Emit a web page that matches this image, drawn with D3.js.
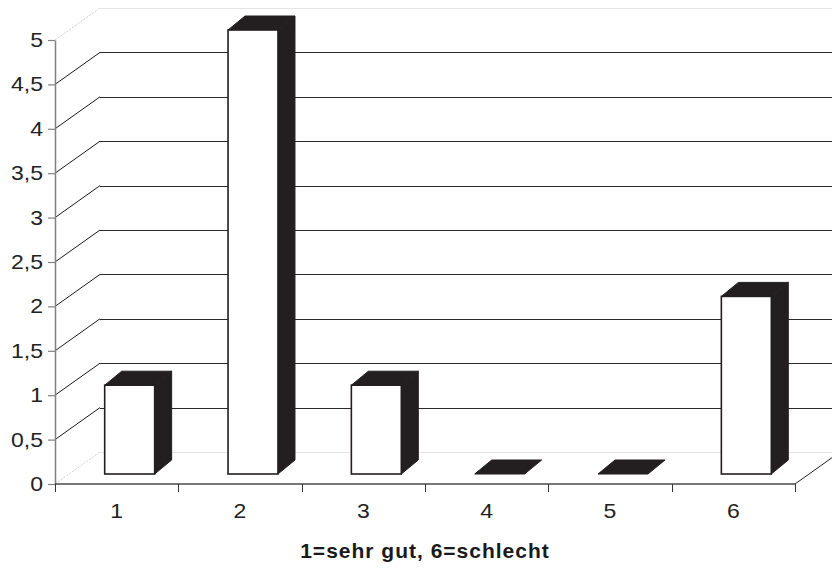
<!DOCTYPE html>
<html>
<head>
<meta charset="utf-8">
<script src="https://cdn.jsdelivr.net/npm/d3@7"></script>
<style>
  html, body { margin: 0; padding: 0; background: #fff; }
  svg { display: block; font-family: Arial, "Liberation Sans", sans-serif; }
</style>
</head>
<body>
<svg id="chart" width="832" height="568"></svg>
<script>
// Ratings 1 (sehr gut) .. 6 (schlecht) and how often each was given
const categories = ["1", "2", "3", "4", "5", "6"];
const counts = [1, 5, 1, 0, 0, 2];
const yTickValues = [0, 0.5, 1, 1.5, 2, 2.5, 3, 3.5, 4, 4.5, 5];
const yTickLabels = ["0", "0,5", "1", "1,5", "2", "2,5", "3", "3,5", "4", "4,5", "5"];
const xTitle = "1=sehr gut, 6=schlecht";

const svg = d3.select("#chart");

// Front plane of the 3D box
const x = d3.scaleBand().domain(categories).range([55, 795]).padding(0);
const y = d3.scaleLinear().domain([0, 5]).range([484, 40]);

// Oblique depth of the back wall and of each bar
const wallDx = 45, wallDy = -32;
const barOffX = 13, barOffY = -10;   // bar front face sits a bit into the box
const barDx = 17, barDy = -14;       // bar depth
const barW = x.bandwidth() * 0.405;
const textStretch = 1.15;            // labels are drawn slightly wide

const x0 = x.range()[0], x1 = x.range()[1];
const farRight = x1 + wallDx;

// ----- back wall & gridlines -----
const grid = svg.append("g");
yTickValues.forEach(v => {
  const edge = v === 0 || v === 5;
  const yf = y(v), yb = y(v) + wallDy;
  grid.append("line")
    .attr("x1", x0).attr("y1", yf)
    .attr("x2", x0 + wallDx).attr("y2", yb)
    .attr("stroke", edge ? "#cfcfcf" : "#1a1a1a")
    .attr("stroke-width", 1)
    .attr("stroke-dasharray", edge ? "2,1.5" : null);
  grid.append("line")
    .attr("x1", x0 + wallDx).attr("y1", Math.round(yb) + 0.5)
    .attr("x2", farRight).attr("y2", Math.round(yb) + 0.5)
    .attr("stroke", edge ? "#e4e4e4" : "#2a2a2a")
    .attr("stroke-width", 1);
});

// right edge of the floor
grid.append("line")
  .attr("x1", x1).attr("y1", y(0))
  .attr("x2", x1 + wallDx).attr("y2", y(0) + wallDy)
  .attr("stroke", "#222").attr("stroke-width", 1);

// ----- bars -----
const dark = "#231f20";
const bars = svg.append("g").selectAll("g")
  .data(categories.map((c, i) => ({ c, v: counts[i] })))
  .join("g");

bars.each(function (d) {
  const g = d3.select(this);
  const fx = x(d.c) + (x.bandwidth() - barW) / 2 + barOffX;
  const bot = y(0) + barOffY;
  const top = y(d.v) + barOffY;
  const topFace = [[fx, top], [fx + barDx, top + barDy], [fx + barW + barDx, top + barDy], [fx + barW, top]];
  g.append("polygon")
    .attr("points", topFace.map(p => p.join(",")).join(" "))
    .attr("fill", dark).attr("stroke", dark).attr("stroke-width", 1).attr("stroke-linejoin", "round");
  if (d.v > 0) {
    const side = [[fx + barW, top], [fx + barW + barDx, top + barDy], [fx + barW + barDx, bot + barDy], [fx + barW, bot]];
    g.append("polygon")
      .attr("points", side.map(p => p.join(",")).join(" "))
      .attr("fill", dark).attr("stroke", dark).attr("stroke-width", 1).attr("stroke-linejoin", "round");
    g.append("rect")
      .attr("x", fx).attr("y", top)
      .attr("width", barW).attr("height", bot - top)
      .attr("fill", "#fff").attr("stroke", dark).attr("stroke-width", 1.6);
  }
});

// ----- y axis -----
const yAxis = d3.axisLeft(y)
  .tickValues(yTickValues)
  .tickFormat((v, i) => yTickLabels[i])
  .tickSize(7)
  .tickSizeOuter(0)
  .tickPadding(5);

const gy = svg.append("g").attr("transform", `translate(${x0},0)`).call(yAxis);
gy.select(".domain").attr("stroke", "#808080").attr("stroke-width", 1.5);
gy.selectAll(".tick line").attr("stroke", "#808080").attr("stroke-width", 1.2);
gy.selectAll(".tick text")
  .each(function () {
    const t = d3.select(this);
    const tx = +t.attr("x");
    t.attr("x", 0).attr("transform", `translate(${tx},0) scale(${textStretch},1)`);
  })
  .attr("fill", "#222")
  .attr("font-size", 20)
  .attr("font-family", "Arial, 'Liberation Sans', sans-serif");

// ----- x axis -----
const gx = svg.append("g");
gx.append("line")
  .attr("x1", x0).attr("x2", x1)
  .attr("y1", y(0)).attr("y2", y(0))
  .attr("stroke", "#4a4a4a").attr("stroke-width", 1.5);

const boundaries = categories.map(c => x(c)).concat([x1]);
gx.selectAll("line.tick")
  .data(boundaries)
  .join("line")
  .attr("class", "tick")
  .attr("x1", d => Math.round(d) + 0.5).attr("x2", d => Math.round(d) + 0.5)
  .attr("y1", y(0)).attr("y2", y(0) + 8)
  .attr("stroke", "#333").attr("stroke-width", 1);

gx.selectAll("text")
  .data(categories)
  .join("text")
  .attr("transform", d => `translate(${x(d) + x.bandwidth() / 2},${y(0) + 34}) scale(${textStretch},1)`)
  .attr("text-anchor", "middle")
  .attr("font-size", 20)
  .attr("fill", "#222")
  .text(d => d);

// axis title
svg.append("text")
  .attr("x", (x0 + x1) / 2)
  .attr("y", 558)
  .attr("text-anchor", "middle")
  .attr("font-size", 21)
  .attr("font-weight", "bold")
  .attr("letter-spacing", "1px")
  .attr("fill", "#1a1a1a")
  .text(xTitle);
</script>
</body>
</html>
